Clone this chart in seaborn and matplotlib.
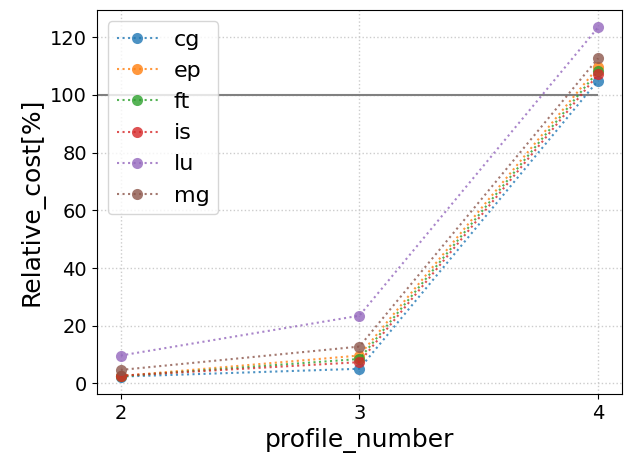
import matplotlib
matplotlib.use("Agg")
import matplotlib.pyplot as plt
import seaborn as sns
import pandas as pd

profiles = [2, 3, 4]
apps = ["cg", "ep", "ft", "is", "lu", "mg"]
cg = [2.4, 5.1, 105.0]
ep = [2.6, 9.7, 109.6]
ft = [2.5, 8.5, 108.2]
is_ = [2.7, 7.4, 107.1]
lu = [9.7, 23.5, 123.4]
mg = [4.7, 12.8, 112.7]
series = [cg, ep, ft, is_, lu, mg]
ref_level = 100

plt.rcParams['font.family'] = ['DejaVu Sans']

fig, ax = plt.subplots(figsize=(6.25, 4.55), dpi=100)
palette = sns.color_palette("tab10")

rows = []
for name, vals in zip(apps, series):
    for p, v in zip(profiles, vals):
        rows.append({"profile_number": p, "Relative_cost[%]": v, "app": name})
df = pd.DataFrame(rows)

for i, name in enumerate(apps):
    sub = df[df["app"] == name]
    sns.lineplot(data=sub, x="profile_number", y="Relative_cost[%]", ax=ax,
                 color=palette[i], linestyle=":", marker="o", markersize=8,
                 markeredgewidth=0, alpha=0.8, label=name)

ax.set_xticks(profiles)
ax.grid(True, linestyle=":", color="#cccccc", linewidth=1)
ax.set_axisbelow(True)
xlo, xhi = ax.get_xlim()
ax.hlines(ref_level, xlo, 4, color="gray", linewidth=1.5, zorder=1)
ax.set_xlim(xlo, xhi)
ax.set_xlabel("profile_number", fontsize=18)
ax.set_ylabel("Relative_cost[%]", fontsize=18)
ax.tick_params(labelsize=14)
ax.legend(fontsize=16, loc="upper left", handlelength=1.85, handletextpad=0.7)
fig.subplots_adjust(left=0.155, right=0.995, top=0.978, bottom=0.134)
fig.savefig("out.png", dpi=100)
